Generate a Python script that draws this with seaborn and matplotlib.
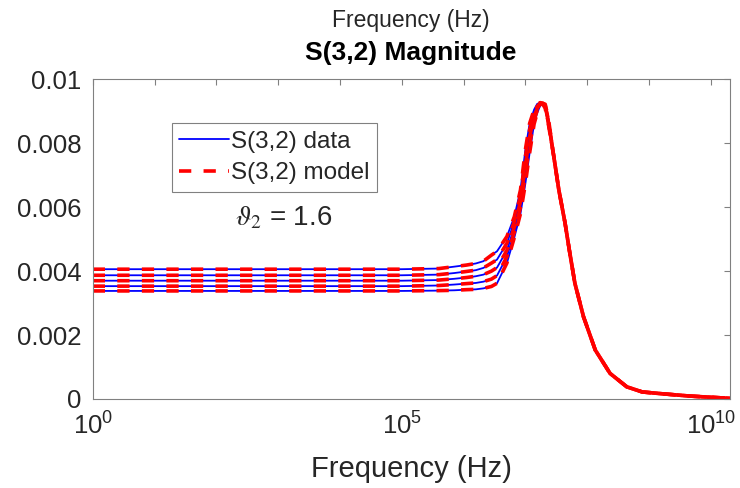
import numpy as np
import pandas as pd
import matplotlib
matplotlib.use("Agg")
import matplotlib.pyplot as plt
import matplotlib.ticker as mticker
from matplotlib.lines import Line2D
import seaborn as sns

# Frequency points (Hz)
freq_hz = [1, 1e5, 3.98e5, 7.08e5, 1.12e6, 1.58e6, 2.09e6, 2.82e6, 3.47e6, 5.01e6,
           6.61e6, 8.32e6, 1.0e7, 1.17e7, 1.38e7, 1.55e7, 1.74e7, 1.91e7, 2.09e7, 2.34e7,
           2.88e7, 3.47e7, 4.37e7, 5.13e7, 6.31e7, 8.71e7, 1.35e8, 2.34e8,
           4.37e8, 7.76e8, 1.70e9, 4.68e9, 2.04e10]

# shared high-frequency tail (all curves merge after the peak)
tail = [0.00758, 0.00654, 0.00551, 0.00466, 0.00362, 0.00257, 0.00153, 0.00080,
        0.00038, 0.00022, 0.00016, 0.00009, 0.00002]

curve_1 = [0.00406, 0.00406, 0.00408, 0.00414, 0.00419, 0.00424, 0.00431, 0.00450,
           0.00462, 0.00508, 0.00570, 0.00654, 0.00781, 0.00862, 0.00905, 0.00923,
           0.00927, 0.00923, 0.00909, 0.00862] + tail
curve_2 = [0.00387, 0.00387, 0.00389, 0.00394, 0.00399, 0.00403, 0.00410, 0.00425,
           0.00436, 0.00487, 0.00555, 0.00637, 0.00758, 0.00842, 0.00896, 0.00915,
           0.00926, 0.00925, 0.00912, 0.00866] + tail
curve_3 = [0.00370, 0.00370, 0.00372, 0.00376, 0.00380, 0.00384, 0.00389, 0.00400,
           0.00411, 0.00465, 0.00538, 0.00618, 0.00733, 0.00820, 0.00885, 0.00908,
           0.00924, 0.00925, 0.00915, 0.00870] + tail
curve_4 = [0.00353, 0.00353, 0.00355, 0.00358, 0.00361, 0.00363, 0.00367, 0.00375,
           0.00386, 0.00445, 0.00522, 0.00600, 0.00705, 0.00796, 0.00873, 0.00902,
           0.00921, 0.00925, 0.00918, 0.00875] + tail
curve_5 = [0.00338, 0.00338, 0.00339, 0.00340, 0.00342, 0.00343, 0.00346, 0.00352,
           0.00362, 0.00425, 0.00505, 0.00580, 0.00675, 0.00770, 0.00860, 0.00895,
           0.00918, 0.00925, 0.00922, 0.00880] + tail

data_curves = [curve_1, curve_2, curve_3, curve_4, curve_5]
model_curves = [curve_1, curve_2, curve_3, curve_4, curve_5]  # model overlays data

y_ticks = [0, 0.002, 0.004, 0.006, 0.008, 0.01]
y_labels = ["0", "0.002", "0.004", "0.006", "0.008", "0.01"]
x_label_decades = {0: r"$10^{0}$", 5: r"$10^{5}$", 10: r"$10^{10}$"}

sns.set_theme(style="white")
plt.rcParams["font.family"] = ["Liberation Sans", "DejaVu Sans"]
plt.rcParams["mathtext.fontset"] = "custom"
plt.rcParams["mathtext.rm"] = "Liberation Sans"
plt.rcParams["mathtext.it"] = "Liberation Sans:italic"

rows = []
for i, vals in enumerate(data_curves):
    for f, v in zip(freq_hz, vals):
        rows.append({"freq": f, "value": v, "curve": i, "kind": "data"})
for i, vals in enumerate(model_curves):
    for f, v in zip(freq_hz, vals):
        rows.append({"freq": f, "value": v, "curve": i, "kind": "model"})
df = pd.DataFrame(rows)

text_col = "#262626"
axis_col = "#808080"
model_ls = (0, (3.4, 3.4))

fig = plt.figure(figsize=(7.4, 4.88), dpi=100)
ax = fig.add_axes([0.1253, 0.1824, 0.8612, 0.6551])

sns.lineplot(data=df[df.kind == "data"], x="freq", y="value", units="curve",
             estimator=None, color="#0000ff", linewidth=1.3, sort=False, ax=ax)
sns.lineplot(data=df[df.kind == "model"], x="freq", y="value", units="curve",
             estimator=None, color="#ff0000", linewidth=2.6, sort=False,
             linestyle=model_ls, ax=ax)

ax.set_xscale("log")
ax.set_xlim(1, 2.04e10)
ax.set_ylim(0, 0.01)

decades = np.arange(0, 11)
ax.xaxis.set_major_locator(mticker.FixedLocator(10.0 ** decades))
ax.xaxis.set_minor_locator(mticker.NullLocator())
ax.set_xticklabels([x_label_decades.get(d, "") for d in decades])
ax.set_yticks(y_ticks)
ax.set_yticklabels(y_labels)

ax.tick_params(axis="both", which="major", direction="in", length=4, width=0.8,
               color=axis_col, labelsize=18.5, labelcolor=text_col,
               top=True, right=True)
ax.tick_params(axis="x", pad=10)
ax.tick_params(axis="y", pad=8)
for sp in ax.spines.values():
    sp.set_visible(True)
    sp.set_color(axis_col)
    sp.set_linewidth(0.8)

ax.set_xlabel("Frequency (Hz)", fontsize=21, color=text_col, labelpad=11)
ax.set_ylabel("")

fig.text(0.555, 0.958, "Frequency (Hz)", ha="center", va="center",
         fontsize=16.5, color=text_col)
fig.text(0.555, 0.891, "S(3,2) Magnitude", ha="center", va="center",
         fontsize=19, fontweight="bold", color="black")

handles = [Line2D([], [], color="#0000ff", linewidth=1.3),
           Line2D([], [], color="#ff0000", linewidth=2.6, linestyle=model_ls)]
leg = ax.legend(handles, ["S(3,2) data", "S(3,2) model"], loc="upper left",
                bbox_to_anchor=(0.124, 0.862), borderaxespad=0, fontsize=17.5,
                frameon=True, fancybox=False, framealpha=1, edgecolor=axis_col,
                handlelength=2.05, handletextpad=0.1, labelspacing=0.4,
                borderpad=0.3)
leg.get_frame().set_linewidth(0.8)
for t in leg.get_texts():
    t.set_color(text_col)

ax.text(0.299, 0.566, r"$\vartheta_2$ = 1.6", transform=ax.transAxes,
        ha="center", va="center", fontsize=20, color=text_col,
        math_fontfamily="stix")

fig.savefig("out.png", dpi=100)
